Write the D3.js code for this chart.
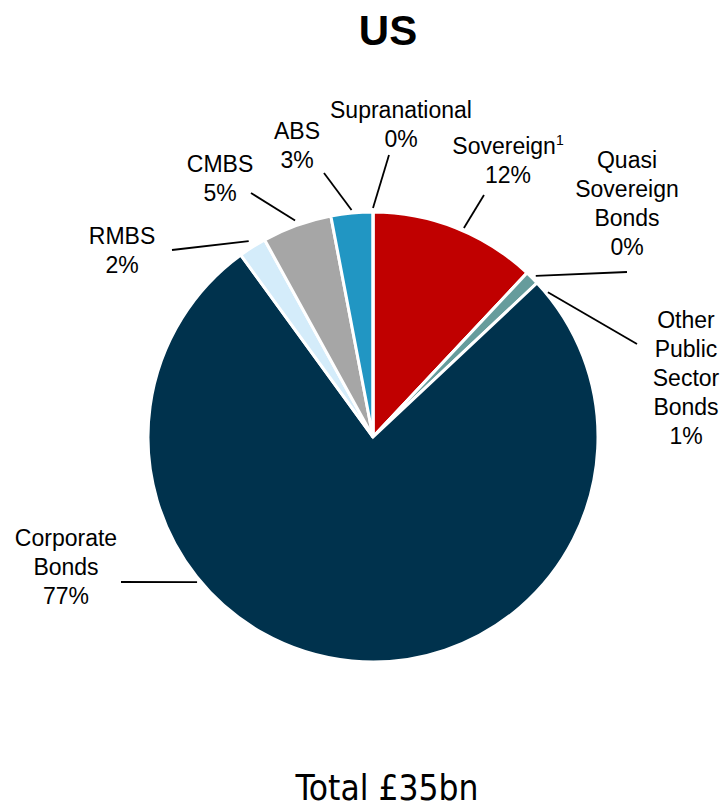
<!DOCTYPE html>
<html>
<head>
<meta charset="utf-8">
<script src="https://cdn.jsdelivr.net/npm/d3@7"></script>
<style>
  html, body { margin: 0; padding: 0; background: #fff; }
  svg { display: block; }
</style>
</head>
<body>
<svg id="chart" width="722" height="809"></svg>
<script>
// Asset mix, percentage of total, clockwise from 12 o'clock
const categories = ["Sovereign", "Quasi Sovereign Bonds", "Other Public Sector Bonds",
  "Corporate Bonds", "RMBS", "CMBS", "ABS", "Supranational"];
const shares = [12, 0, 1, 77, 2, 5, 3, 0];
const colours = ["#c00000", "#ffffff", "#669c9c", "#00324d", "#d4ecfa", "#a6a6a6", "#2196c3", "#ffffff"];
const title = "US";
const totalLabel = "Total £35bn";

// Label text lines per slice (superscript handled separately)
const labelLines = [
  ["Sovereign", "12%"],
  ["Quasi", "Sovereign", "Bonds", "0%"],
  ["Other", "Public", "Sector", "Bonds", "1%"],
  ["Corporate", "Bonds", "77%"],
  ["RMBS", "2%"],
  ["CMBS", "5%"],
  ["ABS", "3%"],
  ["Supranational", "0%"]
];

// Label placement: text centre x, first baseline y, leader end, optional leader angle (deg) and radius
const labelLayout = [
  { x: 508, y: 154, end: [484, 195], angle: 23.5, r: 228 },
  { x: 627, y: 168, end: [627, 272], angle: 45.3, r: 229 },
  { x: 686, y: 328, end: [637, 344], angle: 50.4, r: 227 },
  { x: 66,  y: 546, end: [121, 582], angle: 230.5, r: 228 },
  { x: 122, y: 244, end: [172, 250], r: 232 },
  { x: 220, y: 172, end: [251, 193], r: 230 },
  { x: 297, y: 139, end: [324, 173], r: 228 },
  { x: 401, y: 118, end: [389, 155], r: 229 }
];

const width = 722, height = 809;
const cx = 373, cy = 437, R = 225;
const lineH = 29;
const font = "'Liberation Sans', Arial, sans-serif";

const svg = d3.select("#chart");

svg.append("text")
  .attr("x", 388).attr("y", 45)
  .attr("text-anchor", "middle")
  .attr("font-family", font)
  .attr("font-weight", "bold")
  .attr("font-size", 42)
  .attr("fill", "#000")
  .text(title);

const pie = d3.pie().sort(null).value(d => d)(shares);
const arc = d3.arc().innerRadius(0).outerRadius(R);

const g = svg.append("g").attr("transform", `translate(${cx},${cy})`);

g.selectAll("path.slice")
  .data(pie)
  .join("path")
  .attr("class", "slice")
  .attr("d", arc)
  .attr("fill", (d, i) => colours[i])
  .attr("stroke", "#fff")
  .attr("stroke-width", 3)
  .attr("stroke-linejoin", "miter");

// Leader lines
pie.forEach((d, i) => {
  const lay = labelLayout[i];
  const a = (lay.angle !== undefined ? lay.angle * Math.PI / 180 : (d.startAngle + d.endAngle) / 2);
  const sx = cx + lay.r * Math.sin(a);
  const sy = cy - lay.r * Math.cos(a);
  svg.append("line")
    .attr("x1", sx).attr("y1", sy)
    .attr("x2", lay.end[0]).attr("y2", lay.end[1])
    .attr("stroke", "#000")
    .attr("stroke-width", 1.8);
});

// Labels
labelLines.forEach((lines, i) => {
  const lay = labelLayout[i];
  lines.forEach((ln, j) => {
    const t = svg.append("text")
      .attr("x", lay.x)
      .attr("y", lay.y + j * lineH)
      .attr("text-anchor", "middle")
      .attr("font-family", font)
      .attr("font-size", 23)
      .attr("fill", "#000");
    t.append("tspan").text(ln);
    if (i === 0 && j === 0) {
      t.append("tspan")
        .attr("font-size", 14)
        .attr("dy", -9)
        .text("1");
    }
  });
});

svg.append("text")
  .attr("x", 387).attr("y", 800)
  .attr("text-anchor", "middle")
  .attr("font-family", "'DejaVu Sans Condensed', 'DejaVu Sans', sans-serif")
  .attr("font-size", 35)
  .attr("fill", "#000")
  .text(totalLabel);
</script>
</body>
</html>
